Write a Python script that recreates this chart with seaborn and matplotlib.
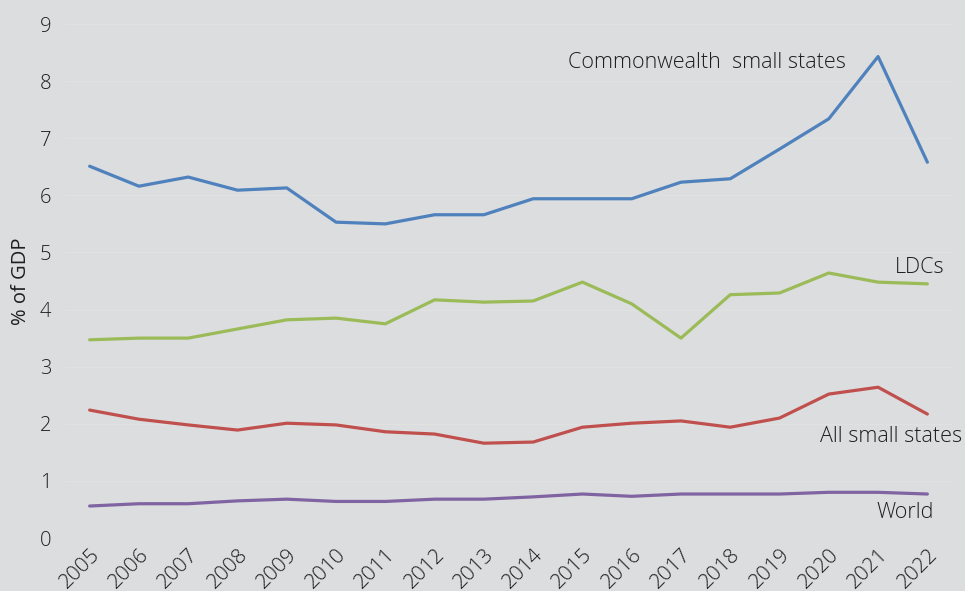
import matplotlib
matplotlib.use("Agg")
import matplotlib.pyplot as plt
import pandas as pd
import seaborn as sns

years = list(range(2005, 2023))
commonwealth_small = [6.51, 6.16, 6.32, 6.09, 6.13, 5.53, 5.50, 5.66, 5.66,
                      5.94, 5.94, 5.94, 6.23, 6.29, 6.81, 7.34, 8.43, 6.58]
ldcs = [3.47, 3.50, 3.50, 3.66, 3.82, 3.85, 3.75, 4.17, 4.13,
        4.15, 4.48, 4.10, 3.50, 4.26, 4.29, 4.64, 4.48, 4.45]
all_small = [2.24, 2.08, 1.98, 1.89, 2.01, 1.98, 1.86, 1.82, 1.66,
             1.68, 1.94, 2.01, 2.05, 1.94, 2.10, 2.52, 2.64, 2.17]
world = [0.56, 0.60, 0.60, 0.65, 0.68, 0.64, 0.64, 0.68, 0.68,
         0.72, 0.77, 0.73, 0.77, 0.77, 0.77, 0.80, 0.80, 0.77]

series_names = ["Commonwealth small states", "LDCs", "All small states", "World"]
series_values = [commonwealth_small, ldcs, all_small, world]
colors = ["#4F81BD", "#9BBB59", "#C0504D", "#8064A2"]

df = pd.concat(
    [pd.DataFrame({"year": years, "value": vals, "group": name})
     for name, vals in zip(series_names, series_values)],
    ignore_index=True,
)

bg = "#DCDDDF"
text_color = "#1E1E1E"
sns.set_theme(style="white")
plt.rcParams["font.family"] = ["Open Sans", "DejaVu Sans"]
plt.rcParams["font.weight"] = "light"

fig = plt.figure(figsize=(9.65, 5.91), dpi=100, facecolor=bg)
ax = fig.add_axes([65 / 965, 1 - 538 / 591, (952 - 65) / 965, (538 - 24) / 591])
ax.set_facecolor(bg)

sns.lineplot(data=df, x="year", y="value", hue="group", hue_order=series_names,
             palette=colors, linewidth=2.3, legend=False, ax=ax)

ax.set_xlim(2004.5, 2022.5)
ax.set_ylim(0, 9)
ax.set_yticks(range(0, 10))
ax.set_xticks(years)
ax.set_xticklabels([str(y) for y in years], rotation=45, ha="right",
                   rotation_mode="anchor", fontsize=15, color=text_color)
ax.tick_params(axis="x", length=0, pad=5)
ax.tick_params(axis="y", length=0, pad=10, labelsize=14.5, labelcolor=text_color)
ax.yaxis.grid(True, color="#E1E2E0", linewidth=1.0)
ax.xaxis.grid(False)
for s in ax.spines.values():
    s.set_visible(False)

ax.set_xlabel("")
ax.set_ylabel("% of GDP", fontsize=14.5, color=text_color, labelpad=6)

label_pos = {
    "Commonwealth  small states": (2014.70, 8.32),
    "LDCs": (2021.35, 4.73),
    "All small states": (2019.83, 1.77),
    "World": (2020.96, 0.44),
}
for name, (x, y) in label_pos.items():
    ax.text(x, y, name, fontsize=15.5, color=text_color, ha="left", va="center")

fig.savefig("out.png", dpi=100, facecolor=bg)
